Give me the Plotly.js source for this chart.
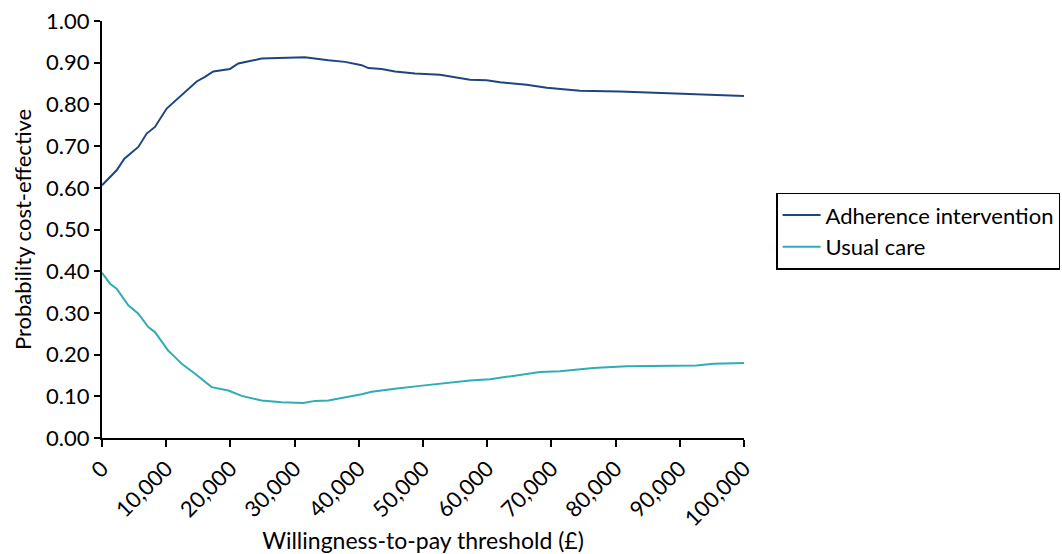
<!DOCTYPE html>
<html><head><meta charset="utf-8">
<script src="https://cdn.plot.ly/plotly-3.0.1.min.js"></script>
<style>body{margin:0;background:#fff}#c{width:1062px;height:554px}</style>
</head><body><div id="c"></div>
<script>
var seriesNames = ["Adherence intervention", "Usual care"];
var wtpAdherence = [0,2280,3480,5660,6960,8250,10070,11880,14750,16040,17340,19940,21230,23050,24870,27460,31610,35250,37850,40450,41480,43560,45640,48750,52650,57320,59920,62000,66150,69270,74460,80690,88470,93660,100000];
var probAdherence = [0.606,0.642,0.670,0.698,0.730,0.746,0.790,0.816,0.855,0.866,0.879,0.885,0.898,0.904,0.910,0.911,0.913,0.906,0.902,0.894,0.887,0.885,0.879,0.874,0.871,0.859,0.858,0.853,0.847,0.840,0.833,0.831,0.826,0.823,0.820];
var wtpUsual = [0,1250,2280,4100,5660,7210,8250,10330,11370,12410,14490,16040,17080,19680,21760,24870,27980,31350,33180,35250,38890,40450,42000,44080,45640,49530,54720,57320,60430,65100,68220,71340,76530,81720,85870,92620,95220,100000];
var probUsual = [0.396,0.370,0.358,0.318,0.298,0.266,0.254,0.209,0.194,0.178,0.154,0.136,0.122,0.114,0.101,0.090,0.086,0.084,0.089,0.090,0.100,0.105,0.111,0.114,0.118,0.125,0.134,0.138,0.141,0.151,0.158,0.160,0.168,0.172,0.173,0.174,0.178,0.180];
var xTickVals = [0,10000,20000,30000,40000,50000,60000,70000,80000,90000,100000];
var yTickVals = [0,0.1,0.2,0.3,0.4,0.5,0.6,0.7,0.8,0.9,1.0];
var xTitle = "Willingness-to-pay threshold (£)";
var yTitle = "Probability cost-effective";

var font = "Lato, 'Open Sans', sans-serif";
var fs = 22;
var traces = [
  {x: wtpAdherence, y: probAdherence, name: seriesNames[0], mode: "lines", line: {color: "#1f4581", width: 2}},
  {x: wtpUsual, y: probUsual, name: seriesNames[1], mode: "lines", line: {color: "#2fadb4", width: 2}}
];
var layout = {
  width: 1062, height: 554,
  margin: {l: 102, r: 318, t: 21, b: 116, autoexpand: false},
  paper_bgcolor: "#fff", plot_bgcolor: "#fff",
  font: {family: font, size: fs, color: "#000"},
  showlegend: true,
  legend: {x: 1.05, y: 0.588, xanchor: "left", yanchor: "top", bordercolor: "#000", borderwidth: 1.5,
           font: {family: font, size: fs, color: "#000"}, tracegroupgap: 0, itemwidth: 38},
  xaxis: {range: [0, 100000], tickvals: xTickVals, tickformat: ",", tickangle: -45,
          showgrid: false, zeroline: false, showline: true, linecolor: "#000", linewidth: 2,
          ticks: "outside", ticklen: 7, tickwidth: 2, tickcolor: "#000",
          tickfont: {family: font, size: fs, color: "#000"},
          title: {text: xTitle, font: {family: font, size: 23, color: "#000"}, standoff: 10}},
  yaxis: {range: [0, 1], tickvals: yTickVals, tickformat: ".2f",
          showgrid: false, zeroline: false, showline: true, linecolor: "#000", linewidth: 2,
          ticks: "outside", ticklen: 6, tickwidth: 2, tickcolor: "#000",
          tickfont: {family: font, size: fs, color: "#000"},
          title: {text: yTitle, font: {family: font, size: fs, color: "#000"}, standoff: 8}}
};
Plotly.newPlot("c", traces, layout, {displayModeBar: false, staticPlot: true});
</script>
</body></html>
